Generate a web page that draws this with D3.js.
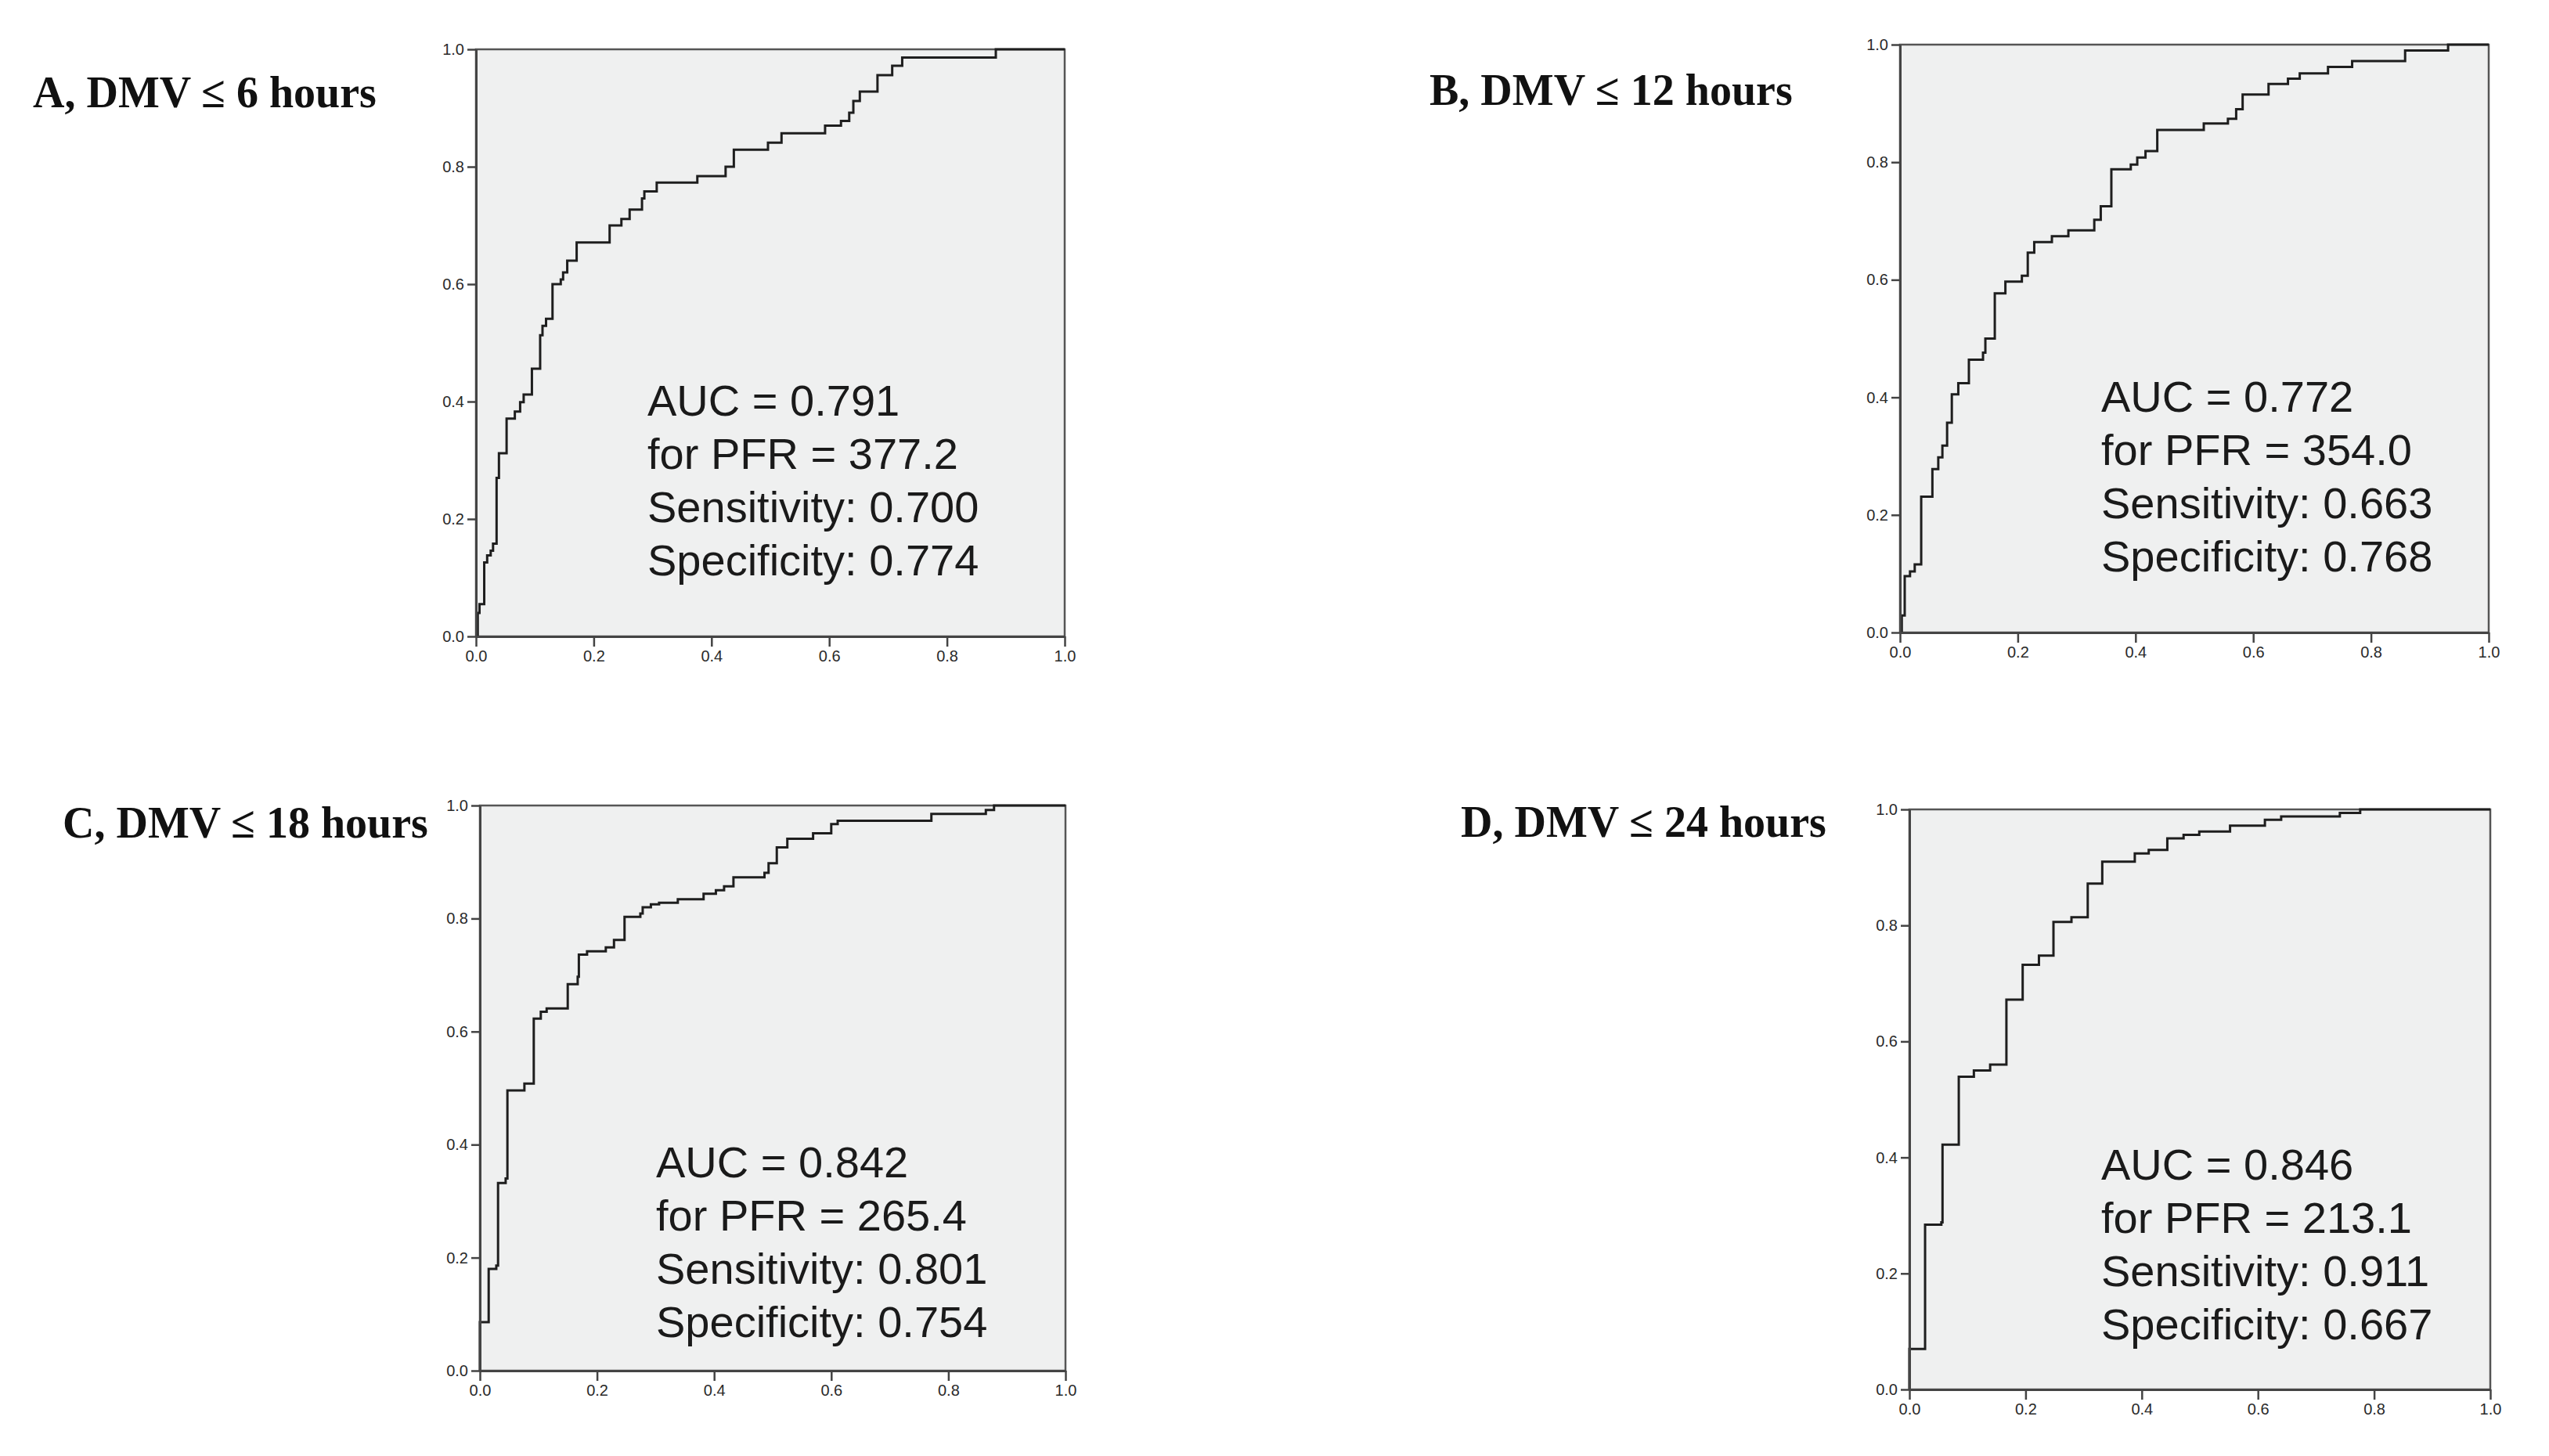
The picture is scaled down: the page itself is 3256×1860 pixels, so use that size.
<!DOCTYPE html>
<html>
<head>
<meta charset="utf-8">
<script src="https://cdn.jsdelivr.net/npm/d3@7"></script>
<style>
  body { margin: 0; background: #fff; }
  .tick text { font-family: "Liberation Sans", Arial, sans-serif; font-size: 20px; fill: #2a2a2a; }
  .tick line { stroke: #444; stroke-width: 2.5px; }
  .title { font-family: "Liberation Serif", "Times New Roman", serif; font-weight: bold; font-size: 56px; fill: #111; }
  .stats { font-family: "Liberation Sans", Arial, sans-serif; font-size: 56px; fill: #1a1a1a; }
</style>
</head>
<body>
<svg id="chart" width="3256" height="1860"></svg>
<script>
// ROC points (false positive rate, true positive rate)
var fprA = [0,0.003,0.006,0.014,0.019,0.025,0.029,0.035,0.039,0.052,0.066,0.075,0.081,0.095,0.109,0.113,0.119,0.130,0.144,0.148,0.155,0.171,0.227,0.247,0.261,0.282,0.286,0.307,0.376,0.424,0.438,0.496,0.519,0.593,0.620,0.634,0.641,0.652,0.682,0.707,0.724,0.883,1];
var tprA = [0,0.040,0.055,0.126,0.138,0.146,0.158,0.270,0.312,0.371,0.383,0.399,0.412,0.456,0.513,0.529,0.541,0.600,0.608,0.620,0.640,0.671,0.700,0.711,0.727,0.746,0.758,0.773,0.784,0.800,0.829,0.841,0.857,0.870,0.878,0.892,0.912,0.928,0.956,0.972,0.986,1.000,1];

var fprB = [0,0.003,0.008,0.017,0.025,0.036,0.055,0.065,0.072,0.080,0.088,0.099,0.117,0.141,0.145,0.161,0.179,0.207,0.217,0.228,0.258,0.286,0.330,0.341,0.359,0.392,0.403,0.417,0.437,0.516,0.557,0.571,0.582,0.626,0.659,0.679,0.727,0.768,0.858,0.931,1];
var tprB = [0,0.029,0.096,0.104,0.116,0.231,0.278,0.298,0.318,0.357,0.405,0.424,0.464,0.476,0.500,0.577,0.597,0.607,0.646,0.664,0.674,0.684,0.702,0.725,0.788,0.796,0.808,0.819,0.855,0.866,0.874,0.890,0.915,0.933,0.942,0.951,0.962,0.972,0.990,1.000,1];

var fprC = [0,0,0.015,0.028,0.031,0.044,0.047,0.076,0.092,0.104,0.114,0.150,0.167,0.169,0.183,0.215,0.229,0.247,0.274,0.278,0.292,0.306,0.338,0.382,0.403,0.417,0.433,0.486,0.493,0.507,0.525,0.569,0.600,0.611,0.771,0.864,0.878,1];
var tprC = [0,0.086,0.180,0.186,0.332,0.340,0.496,0.508,0.623,0.635,0.641,0.684,0.697,0.736,0.742,0.749,0.762,0.803,0.809,0.820,0.825,0.828,0.834,0.844,0.850,0.857,0.873,0.881,0.898,0.926,0.941,0.951,0.967,0.973,0.985,0.992,1.000,1];

var fprD = [0,0,0.027,0.055,0.057,0.085,0.111,0.139,0.167,0.195,0.223,0.248,0.279,0.307,0.332,0.388,0.412,0.444,0.472,0.499,0.552,0.612,0.640,0.741,0.776,1];
var tprD = [0,0.070,0.284,0.288,0.422,0.539,0.550,0.560,0.672,0.732,0.748,0.806,0.814,0.872,0.910,0.924,0.930,0.950,0.956,0.962,0.972,0.982,0.988,0.994,1.000,1];

var titles = ["A, DMV \u2264 6 hours", "B, DMV \u2264 12 hours", "C, DMV \u2264 18 hours", "D, DMV \u2264 24 hours"];
var aucs = ["0.791", "0.772", "0.842", "0.846"];
var pfrs = ["377.2", "354.0", "265.4", "213.1"];
var sens = ["0.700", "0.663", "0.801", "0.911"];
var specs = ["0.774", "0.768", "0.754", "0.667"];
var tickValues = [0, 0.2, 0.4, 0.6, 0.8, 1.0];

// panel boxes and text anchors (pixels)
var layout = [
  {x0: 608,  y0: 63,   x1: 1360, y1: 813,  tx: 42,   ty: 137,  sx: 827,  sy: 531},
  {x0: 2427, y0: 57,   x1: 3179, y1: 808,  tx: 1826, ty: 134,  sx: 2684, sy: 526},
  {x0: 613,  y0: 1029, x1: 1361, y1: 1751, tx: 80,   ty: 1070, sx: 838,  sy: 1504},
  {x0: 2439, y0: 1034, x1: 3181, y1: 1775, tx: 1866, ty: 1069, sx: 2684, sy: 1507}
];

var fprs = [fprA, fprB, fprC, fprD];
var tprs = [tprA, tprB, tprC, tprD];

var svg = d3.select("#chart");
var fmt = d3.format(".1f");

for (var i = 0; i < layout.length; i++) {
  var L = layout[i];
  var x = d3.scaleLinear().domain([0, 1]).range([L.x0, L.x1]);
  var y = d3.scaleLinear().domain([0, 1]).range([L.y1, L.y0]);
  var g = svg.append("g");

  g.append("rect")
    .attr("x", L.x0).attr("y", L.y0)
    .attr("width", L.x1 - L.x0).attr("height", L.y1 - L.y0)
    .attr("fill", "#eff0f0")
    .attr("stroke", "#555").attr("stroke-width", 2.5);

  var pts = fprs[i].map(function(d, k) { return [d, tprs[i][k]]; });
  var line = d3.line()
    .x(function(d) { return x(d[0]); })
    .y(function(d) { return y(d[1]); })
    .curve(d3.curveStepAfter);

  g.append("path")
    .datum(pts)
    .attr("d", line)
    .attr("fill", "none")
    .attr("stroke", "#1e1e1e")
    .attr("stroke-width", 3);

  var xAxis = g.append("g")
    .attr("transform", "translate(0," + L.y1 + ")")
    .call(d3.axisBottom(x).tickValues(tickValues).tickFormat(fmt).tickSize(13).tickSizeOuter(0).tickPadding(5));
  var yAxis = g.append("g")
    .attr("transform", "translate(" + L.x0 + ",0)")
    .call(d3.axisLeft(y).tickValues(tickValues).tickFormat(fmt).tickSize(11).tickSizeOuter(0).tickPadding(4));
  xAxis.select(".domain").attr("stroke", "#444").attr("stroke-width", 3);
  yAxis.select(".domain").attr("stroke", "#444").attr("stroke-width", 3);

  g.append("text").attr("class", "title")
    .attr("x", L.tx).attr("y", L.ty)
    .text(titles[i]);

  var lines = ["AUC = " + aucs[i], "for PFR = " + pfrs[i], "Sensitivity: " + sens[i], "Specificity: " + specs[i]];
  g.selectAll(".stats")
    .data(lines)
    .enter().append("text")
    .attr("class", "stats")
    .attr("x", L.sx)
    .attr("y", function(d, k) { return L.sy + k * 68; })
    .text(function(d) { return d; });
}
</script>
</body>
</html>
